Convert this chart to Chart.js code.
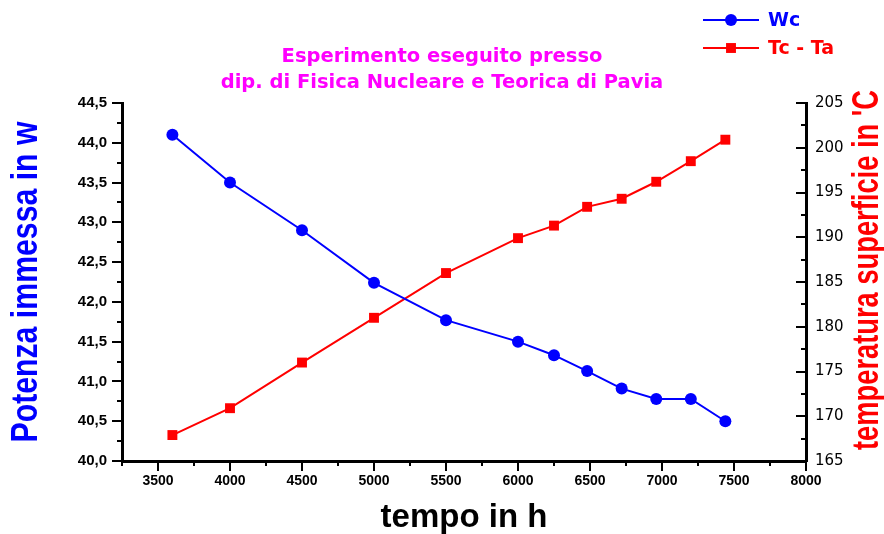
<!DOCTYPE html>
<html>
<head>
<meta charset="utf-8">
<script src="https://cdn.jsdelivr.net/npm/chart.js@4.4.1/dist/chart.umd.min.js"></script>
<style>
  html, body { margin: 0; padding: 0; background: #fff; }
  #wrap { width: 884px; height: 534px; position: relative; }
</style>
</head>
<body>
<div id="wrap"><canvas id="grafico"></canvas></div>
<script>
// dati
var tempo = [3600, 4000, 4500, 5000, 5500, 6000, 6250, 6480, 6720, 6960, 7200, 7440];
var potenza = [44.1, 43.5, 42.9, 42.24, 41.77, 41.5, 41.33, 41.13, 40.91, 40.78, 40.78, 40.5];
var temperatura = [167.9, 170.9, 176.0, 181.0, 186.0, 189.9, 191.3, 193.4, 194.3, 196.2, 198.5, 200.9];

var titolo = ['Esperimento eseguito presso', 'dip. di Fisica Nucleare e Teorica di Pavia'];
var nomiSerie = ['Wc', 'Tc - Ta'];
var titoloX = 'tempo in h';
var titoloY = 'Potenza immessa in w';
var titoloY2 = "temperatura superficie in 'C";

// assi: [min, max, passo etichette, passo tacche]
var assX = [3250, 8000, 500, 250];
var assY = [40, 44.5, 0.5, 0.25];
var assY2 = [165, 205, 5, 2.5];

function punti(xs, ys) {
  return xs.map(function (x, i) { return { x: x, y: ys[i] }; });
}

function isMajor(v, step) {
  var r = v / step;
  return Math.abs(r - Math.round(r)) < 1e-6;
}

// tacche maggiori e minori
var tacche = {
  id: 'tacche',
  afterDraw: function (chart) {
    var ctx = chart.ctx;
    var sx = chart.scales.x, sy = chart.scales.y, sy2 = chart.scales.y2;
    ctx.save();
    ctx.strokeStyle = '#000';
    ctx.lineWidth = 2;
    ctx.beginPath();
    sx.ticks.forEach(function (t) {
      var p = Math.round(sx.getPixelForValue(t.value));
      var l = isMajor(t.value, assX[2]) ? 10 : 5;
      ctx.moveTo(p, sx.top); ctx.lineTo(p, sx.top + l);
    });
    sy.ticks.forEach(function (t) {
      var p = Math.round(sy.getPixelForValue(t.value));
      var l = isMajor(t.value, assY[2]) ? 10 : 5;
      ctx.moveTo(sy.right, p); ctx.lineTo(sy.right - l, p);
    });
    sy2.ticks.forEach(function (t) {
      var p = Math.round(sy2.getPixelForValue(t.value));
      var l = isMajor(t.value, assY2[2]) ? 10 : 5;
      ctx.moveTo(sy2.left, p); ctx.lineTo(sy2.left - l, p);
    });
    ctx.stroke();
    ctx.restore();
  }
};

function testoVerticale(ctx, testo, bx, cy, font, lung, colore) {
  ctx.save();
  ctx.translate(bx, cy);
  ctx.rotate(-Math.PI / 2);
  ctx.font = font;
  var w = ctx.measureText(testo).width;
  ctx.scale(lung / w, 1);
  ctx.fillStyle = colore;
  ctx.textAlign = 'center';
  ctx.textBaseline = 'alphabetic';
  ctx.fillText(testo, 0, 0);
  ctx.restore();
}

// titoli degli assi verticali, entrambi letti dal basso verso l'alto
var titoliY = {
  id: 'titoliY',
  afterDraw: function (chart) {
    var ctx = chart.ctx;
    testoVerticale(ctx, titoloY, 37, 282, 'bold 37px "Liberation Sans"', 321, '#0000ff');
    testoVerticale(ctx, titoloY2, 878, 270, 'bold 36px "Liberation Sans"', 360, '#ff0000');
  }
};

// legenda su due righe in alto a destra
var legenda = {
  id: 'legenda',
  afterDraw: function (chart) {
    var ctx = chart.ctx;
    ctx.save();
    chart.data.datasets.forEach(function (ds, i) {
      var y = 20 + i * 28;
      ctx.strokeStyle = ds.borderColor;
      ctx.fillStyle = ds.borderColor;
      ctx.lineWidth = 2;
      ctx.beginPath();
      ctx.moveTo(703, y); ctx.lineTo(759, y);
      ctx.stroke();
      Chart.helpers.drawPoint(ctx, { pointStyle: ds.pointStyle, radius: ds.pointRadius, borderWidth: 0 }, 731, y);
      ctx.font = 'bold 19px "DejaVu Sans"';
      ctx.textBaseline = 'middle';
      ctx.textAlign = 'left';
      ctx.fillText(ds.label, 768, y + 1);
    });
    ctx.restore();
  }
};

new Chart(document.getElementById('grafico'), {
  type: 'line',
  data: {
    datasets: [{
      label: nomiSerie[0],
      data: punti(tempo, potenza),
      yAxisID: 'y',
      borderColor: '#0000ff',
      backgroundColor: '#0000ff',
      borderWidth: 2,
      pointStyle: 'circle',
      pointRadius: 6,
      pointBorderWidth: 0,
      tension: 0
    }, {
      label: nomiSerie[1],
      data: punti(tempo, temperatura),
      yAxisID: 'y2',
      borderColor: '#ff0000',
      backgroundColor: '#ff0000',
      borderWidth: 2,
      pointStyle: 'rect',
      pointRadius: 7,
      pointBorderWidth: 0,
      tension: 0
    }]
  },
  options: {
    responsive: true,
    maintainAspectRatio: false,
    animation: false,
    layout: { padding: 0 },
    plugins: {
      legend: { display: false },
      tooltip: { enabled: false },
      title: {
        display: true,
        text: titolo,
        color: '#ff00ff',
        font: { family: '"DejaVu Sans"', size: 19.5, weight: 'bold', lineHeight: 26 / 19.5 },
        padding: { top: 44, bottom: 7 }
      }
    },
    scales: {
      x: {
        type: 'linear',
        min: assX[0],
        max: assX[1],
        grid: { display: false, drawTicks: false, tickLength: 0 },
        border: { display: true, color: '#000', width: 3 },
        ticks: {
          stepSize: assX[3],
          autoSkip: false,
          maxRotation: 0,
          padding: 12,
          color: '#000',
          font: { family: '"Liberation Sans"', size: 14, weight: 'bold' },
          callback: function (v) { return isMajor(v, assX[2]) ? String(v) : ''; }
        },
        title: {
          display: true,
          text: titoloX,
          color: '#000',
          font: { family: '"Liberation Sans"', size: 33, weight: 'bold', lineHeight: 1 },
          padding: 0
        },
        afterFit: function (s) { s.height = 73; }
      },
      y: {
        type: 'linear',
        position: 'left',
        min: assY[0],
        max: assY[1],
        grid: { display: false, drawTicks: false, tickLength: 0 },
        border: { display: true, color: '#000', width: 3 },
        ticks: {
          stepSize: assY[3],
          autoSkip: false,
          padding: 15,
          color: '#000',
          font: { family: '"Liberation Sans"', size: 15, weight: 'bold' },
          callback: function (v) { return isMajor(v, assY[2]) ? v.toFixed(1).replace('.', ',') : ''; }
        },
        afterFit: function (s) { s.width = 122; }
      },
      y2: {
        type: 'linear',
        position: 'right',
        min: assY2[0],
        max: assY2[1],
        grid: { display: false, drawTicks: false, tickLength: 0 },
        border: { display: true, color: '#000', width: 3 },
        ticks: {
          stepSize: assY2[3],
          autoSkip: false,
          padding: 9,
          color: '#000',
          font: { family: '"DejaVu Sans"', size: 15 },
          callback: function (v) { return isMajor(v, assY2[2]) ? String(v) : ''; }
        },
        afterFit: function (s) { s.width = 78; }
      }
    }
  },
  plugins: [tacche, titoliY, legenda]
});
</script>
</body>
</html>
